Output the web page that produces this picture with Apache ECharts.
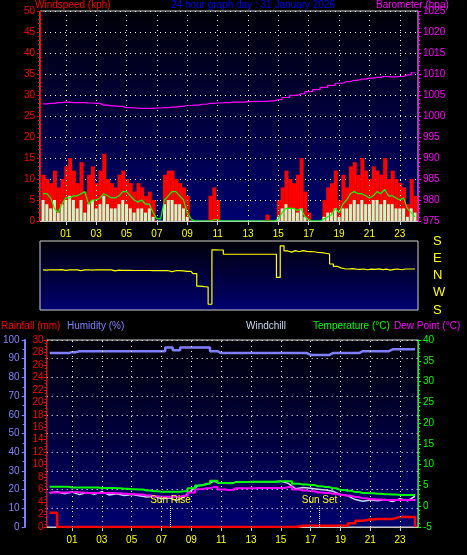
<!DOCTYPE html>
<html><head><meta charset="utf-8">
<script src="https://cdn.jsdelivr.net/npm/echarts@6/dist/echarts.min.js"></script>
<style>html,body{margin:0;padding:0;background:#000}#c{width:467px;height:555px}</style>
</head><body><div id="c"></div>
<script>
// wind/direction samples every 0.25 h starting at -0.5 h
const windStart = -0.5, windStep = 0.25;
const gust = [11,10,9,12,8,10,13,15,12,9, 14,7,11,13,9,12,16,10,9,8, 11,12,10,9,7,9,8,6,7,5, 0,0,11,12,12,10,9,8,6,0, 0,0,0,0,6,8,5,0,0,0, 0,0,0,0,0,0,0,0,0,1.5, 0,0,5,8,12,10,9,11,15,7, 2,0,0,0,5,8,9,12,5,11, 8,13,14,11,15,12,10,13,12,11, 15,10,12,10,9,8,4,10,6];
const speed = [5,4,3,5,2,4,5,6,5,3, 5,2,4,5,3,4,6,4,3,3, 4,5,4,3,2,3,3,2,3,1, 0,0,4,5,5,4,4,3,1,0, 0,0,0,0,0,0,0,0,0,0, 0,0,0,0,0,0,0,0,0,0, 0,0,1,3,4,3,3,2,3,1, 0,0,0,0,1,2,2,3,1,3, 3,4,5,4,5,4,4,5,5,4, 5,4,4,3,3,3,1,3,2];
const avgWind = [6.5,6.5,5.5,3,2,4,5.5,5.5,6,6, 6.5,7,4,5,5,5.5,6.5,6,5.5,5.5, 6,7,7,6,5,4.5,5,4,4,2, 0.5,0.5,5,6,7,7,6,5,2,0.5, 0,0,0,0,0,0.3,0.3,0,0,0, 0,0,0,0,0,0,0,0,0,0, 0,0,0.5,2,3,3,3,2.5,3,1, 0.3,0,0,0,0.5,1,1.5,3,2,4, 5,6.5,7,6.5,6.5,6,5.5,6,7,6.5, 7.5,6,6,5.5,5,5.5,3,2,1];
const direction = [29,28,30,29,29,31,27,29,30,29, 25,29,30,28,30,29,29,30,29,24, 28,27,27,27,26,26,26,26,26,25, 25,25,25,25,20,25,25,24,22,22, 10,-55,-58,-60,-150,134,133,133,111,111, 111,111,111,111,111,111,111,111,111,111, 111,111,-10,155,128,122,130,124,130,126, 125,124,120,119,116,112,60,48,40,35, 34,36,33,32,34,30,33,32,35,31, 33,28,32,34,30,34,34,34,34];
// half-hourly samples starting at -0.5 h
const hStart = -0.5, hStep = 0.5;
const barometer = [1002.9,1003.0,1003.2,1003.3,1003.2,1003.2,1003.1,1003.0,1002.6,1002.4,1002.3,1002.0,1001.9,1001.8,1001.8,1001.9,1002.0,1002.1,1002.3,1002.5,1002.6,1002.8,1003.0,1003.1,1003.2,1003.3,1003.3,1003.4,1003.5,1003.5,1003.6,1003.9,1004.4,1004.9,1005.3,1005.8,1006.3,1006.8,1007.3,1007.8,1008.2,1008.5,1008.8,1009.0,1009.2,1009.4,1009.3,1009.4,1009.8,1010.3];
const temperature = [4.7,4.7,4.7,4.5,4.5,4.5,4.5,4.4,4.4,4.3,4.2,4.1,4.0,3.8,3.6,3.5,3.5,3.5,3.6,4.3,5.0,5.4,6.1,5.6,5.5,5.8,5.8,5.9,5.9,5.9,5.9,6.0,6.0,5.4,5.2,5.1,4.8,4.6,4.3,3.9,3.7,3.4,3.2,3.1,3.0,2.9,2.8,2.7,2.7,2.7];
const dewPoint = [3.3,3.3,3.3,3.4,3.3,3.2,3.2,3.2,3.2,3.1,3.0,2.9,2.8,2.6,2.4,2.3,2.3,2.3,2.5,3.3,4.1,4.3,4.6,4.0,3.9,4.3,4.3,4.3,4.4,4.4,4.4,4.4,4.6,4.0,3.8,3.6,3.3,3.2,3.0,2.7,2.5,2.2,1.9,1.7,1.6,1.5,1.5,1.5,1.5,1.5];
const windchill = [3.2,3.5,3.0,3.4,2.8,3.3,2.9,3.5,2.7,3.0,2.6,2.8,2.5,2.2,2.4,1.8,2.0,1.4,2.2,3.8,5.0,5.2,6.0,5.5,5.5,5.8,5.8,5.9,5.9,5.9,5.9,6.0,5.5,4.2,4.5,4.3,4.1,3.9,3.6,2.8,2.5,1.6,1.2,1.5,1.3,1.6,1.1,1.8,1.3,2.4];
const humidity = [93,93,93,93.5,94,94,94,94,94,94,94,94,94,94,94,94,96,94.5,96,96,96,96,94,93,93,93,93,93,93,93,93,93,93,93,93,92,92,92,93,93,93,93,94,94,94,94,95,95,95,95];
const rainfall = [2.3,0,0,0,0,0,0,0,0,0,0,0,0,0,0,0,0,0,0,0,0,0,0,0,0,0,0,0,0,0,0,0,0,0.2,0.2,0.2,0.2,0.2,0.2,0.2,0.6,1.0,1.2,1.3,1.3,1.3,1.6,1.6,1.6,0];
const sunEvents = [{name:'Sun Rise', hour:7.6},{name:'Sun Set', hour:17.6}];
const hourTicks = [1,3,5,7,9,11,13,15,17,19,21,23];
const dirLabels = {'180':'S','90':'E','0':'N','-90':'W','-180':'S'};

const pair = (arr, s, st) => arr.map((v,i)=>[s+i*st, v]);
const F = 'Liberation Sans';
const bg = {type:'linear',x:0,y:0,x2:0,y2:1,colorStops:[{offset:0,color:'#000008'},{offset:1,color:'#000070'}]};
const xAxis = (g, show) => ({type:'value', gridIndex:g, min:-0.7, max:24.2,
  axisLine:{show:show, onZero:false, lineStyle:{color:'#c8c8c8'}},
  axisTick:{show:show, customValues:hourTicks, length:4, lineStyle:{color:'#c8c8c8'}},
  axisLabel:{show:show, color:'#ffff00', fontFamily:F, fontSize:10, margin:8, customValues:hourTicks, formatter:v=>String(v).padStart(2,'0')},
  splitLine:{show:false}
});
const vgridLines = (g, yi) => ({type:'line', xAxisIndex:g, yAxisIndex:yi, data:[], silent:true,
  markLine:{silent:true, symbol:'none', label:{show:false}, lineStyle:{color:'#ffffff', type:[1,4], width:1},
  data:hourTicks.map(h=>({xAxis:h}))}});
const yBase = (g, min, max, interval, color, pos, extra) => Object.assign({type:'value', gridIndex:g, position:pos, min, max, interval,
  axisLine:{show:true, onZero:false, lineStyle:{color}}, axisTick:{show:true,length:3, lineStyle:{color}},
  minorTick:{show:true,splitNumber:5,length:2, lineStyle:{color}},
  axisLabel:{color, fontFamily:F, fontSize:10, margin:5, formatter:v=>String(v)}, splitLine:{show:false}}, extra||{});
const txt = (x, y, text, fill) => ({type:'text', x, y, z:100, zlevel:1, style:{text, fill, font:'10px '+F, verticalAlign:'top', align:'left'}});

const option = {
  backgroundColor:'#000', animation:false,
  graphic:[
    txt(35,0,'Windspeed (kph)','#ff0000'),
    txt(171,0,'24 hour graph day : 31 January 2026','#0000ff'),
    txt(376,0,'Barometer (hpa)','#ff00ff'),
    txt(1,321,'Rainfall (mm)','#ff0000'),
    txt(67,321,'Humidity (%)','#8080ff'),
    txt(246,321,'Windchill','#c8d8f0'),
    txt(313,321,'Temperature (°C)','#00ff00'),
    txt(394,321,'Dew Point (°C)','#ff00ff')
  ],
  grid:[
    {left:40, top:11, width:378, height:210, show:true, backgroundColor:bg, borderColor:'#d0d0d0', borderWidth:1},
    {left:40, top:241, width:378, height:69, show:true, backgroundColor:bg, borderColor:'#d0d0d0', borderWidth:1},
    {left:43, top:340, width:375, height:187, show:true, backgroundColor:bg, borderColor:'#d0d0d0', borderWidth:1}
  ],
  xAxis:[xAxis(0,true), xAxis(1,false), xAxis(2,true)],
  yAxis:[
    yBase(0,0,50,5,'#ff0000','left',{splitLine:{show:true, lineStyle:{color:'#ffffff', type:[1,4]}}}),
    yBase(0,975,1025,5,'#ff00ff','right'),
    {type:'value', gridIndex:1, position:'right', min:-180, max:180, interval:90, axisLine:{show:false}, axisTick:{show:false},
      axisLabel:{color:'#ffff00', fontFamily:F, fontSize:13, margin:15, formatter:v=>dirLabels[String(v)]||''}, splitLine:{show:false}},
    yBase(2,0,100,10,'#8080ff','left',{offset:22, minorTick:{show:true,splitNumber:2,length:2,lineStyle:{color:'#8080ff'}},
      axisLine:{show:true,onZero:false,lineStyle:{color:'#8080ff',width:2}},
      splitLine:{show:true, lineStyle:{color:'#ffffff', type:[1,4]}}}),
    yBase(2,0,30,2,'#ff0000','left',{minorTick:{show:true,splitNumber:4,length:2,lineStyle:{color:'#ff0000'}}, axisLabel:{color:'#ff0000', fontFamily:F, fontSize:10, margin:3}}),
    yBase(2,-5,40,5,'#00ff00','right')
  ],
  series:[
    vgridLines(0,0), vgridLines(2,3),
    {name:'Gust', type:'bar', xAxisIndex:0, yAxisIndex:0, data:pair(gust,windStart,windStep), barWidth:4, itemStyle:{color:'#ff0000'}},
    {name:'Speed', type:'bar', xAxisIndex:0, yAxisIndex:0, data:pair(speed,windStart,windStep), barWidth:3, barGap:'-100%', itemStyle:{color:'#c8f8c8'}},
    {name:'Average', type:'line', xAxisIndex:0, yAxisIndex:0, data:pair(avgWind,windStart,windStep), symbol:'none', lineStyle:{color:'#00ff00', width:1.2}},
    {name:'Barometer', type:'line', xAxisIndex:0, yAxisIndex:1, data:pair(barometer,hStart,hStep), step:'middle', symbol:'none', lineStyle:{color:'#ff00ff', width:1.2}},
    {name:'Direction', type:'line', xAxisIndex:1, yAxisIndex:2, data:pair(direction,windStart,windStep), step:'middle', symbol:'none', lineStyle:{color:'#ffff00', width:1.2}},
    {name:'Humidity', type:'line', xAxisIndex:2, yAxisIndex:3, data:pair(humidity,hStart,hStep), step:'middle', symbol:'none', lineStyle:{color:'#8080ff', width:2.5}},
    {name:'Windchill', type:'line', xAxisIndex:2, yAxisIndex:5, data:pair(windchill,hStart,hStep), symbol:'none', lineStyle:{color:'#c8d8f0', width:1.5}},
    {name:'Dew Point', type:'line', xAxisIndex:2, yAxisIndex:5, data:pair(dewPoint,hStart,hStep), step:'middle', symbol:'none', lineStyle:{color:'#ff00ff', width:2}},
    {name:'Temperature', type:'line', xAxisIndex:2, yAxisIndex:5, data:pair(temperature,hStart,hStep), step:'middle', symbol:'none', lineStyle:{color:'#00ff00', width:2}},
    {name:'Rainfall', type:'line', xAxisIndex:2, yAxisIndex:4, data:pair(rainfall,hStart,hStep), step:'end', symbol:'none', lineStyle:{color:'#ff0000', width:2.5}},
    ...sunEvents.map(ev=>({name:ev.name, type:'line', xAxisIndex:2, yAxisIndex:5, symbol:'circle', symbolSize:0, showSymbol:true,
      data:[[ev.hour,-5],{value:[ev.hour,0], label:{show:true, position:'top', formatter:ev.name, color:'#ffff00', fontFamily:F, fontSize:10, distance:1}}],
      lineStyle:{color:'#ffff80', width:1, type:[1,1]}}))
  ]
};
echarts.init(document.getElementById('c')).setOption(option);
</script></body></html>
